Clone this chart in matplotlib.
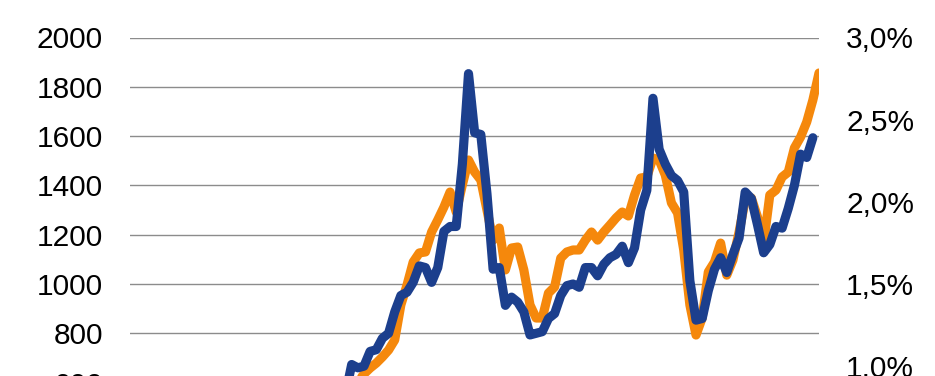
import numpy as np
import matplotlib
matplotlib.use("Agg")
import matplotlib.pyplot as plt
from matplotlib.ticker import FuncFormatter

plt.rcParams['font.family'] = ['Liberation Sans', 'DejaVu Sans']

# Orange series (left axis, index level), one value per period starting at period 0
orange_vals = [550, 602, 635, 659, 679, 704, 732, 773, 915, 996,
               1089, 1126, 1130, 1211, 1260, 1312, 1373, 1292, 1402, 1503,
               1454, 1422, 1300, 1178, 1227, 1057, 1146, 1150, 1057, 915,
               862, 862, 963, 988, 1105, 1130, 1138, 1138, 1178, 1211,
               1178, 1211, 1239, 1268, 1292, 1276, 1361, 1430, 1434, 1511,
               1503, 1442, 1329, 1288, 1138, 915, 793, 862, 1049, 1089,
               1166, 1036, 1097, 1211, 1341, 1349, 1272, 1166, 1361, 1381,
               1434, 1454, 1552, 1596, 1657, 1746, 1856]

# Blue series (right axis, percent), one value per period starting at period -1
blue_pct = [0.83, 1.01, 0.99, 1.00, 1.09, 1.10, 1.17, 1.20, 1.33, 1.43,
            1.45, 1.51, 1.61, 1.60, 1.51, 1.60, 1.82, 1.85, 1.85, 2.23,
            2.78, 2.42, 2.41, 2.05, 1.59, 1.60, 1.37, 1.42, 1.39, 1.33,
            1.19, 1.20, 1.21, 1.29, 1.32, 1.43, 1.49, 1.50, 1.48, 1.60,
            1.60, 1.55, 1.62, 1.66, 1.68, 1.73, 1.63, 1.72, 1.95, 2.07,
            2.63, 2.32, 2.23, 2.16, 2.13, 2.06, 1.52, 1.28, 1.29, 1.46,
            1.59, 1.66, 1.57, 1.68, 1.78, 2.06, 2.02, 1.86, 1.69, 1.74,
            1.85, 1.84, 1.96, 2.10, 2.29, 2.27, 2.39]

left_ticks = [0, 200, 400, 600, 800, 1000, 1200, 1400, 1600, 1800, 2000]
right_ticks = [0.0, 0.5, 1.0, 1.5, 2.0, 2.5, 3.0]

orange_x = np.arange(len(orange_vals))
blue_x = np.arange(len(blue_pct)) - 1

W, H = 935, 376
fig = plt.figure(figsize=(W / 100, H / 100), dpi=100)
left_px, right_px, top_px, bottom_px = 130, 819, 37.5, 530.5
ax = fig.add_axes([left_px / W, 1 - bottom_px / H,
                   (right_px - left_px) / W, (bottom_px - top_px) / H])
ax2 = ax.twinx()

orange = '#F5880C'
blue = '#1C3F8D'

ax.plot(orange_x, orange_vals, color=orange, lw=6.6, solid_joinstyle='round',
        solid_capstyle='round', zorder=3)
ax2.plot(blue_x, blue_pct, color=blue, lw=6.6, solid_joinstyle='round',
         solid_capstyle='round', zorder=3)

ax.set_xlim(-36.05, 76)
ax.set_ylim(0, 2000)
ax2.set_ylim(0, 3.0)
ax.set_yticks(left_ticks)
ax2.set_yticks(right_ticks)
ax.set_xticks([])

ax.grid(axis='y', color='#8c8c8c', lw=1.0)
ax.set_axisbelow(True)

for a in (ax, ax2):
    for s in a.spines.values():
        s.set_visible(False)

ax.tick_params(axis='y', length=0, pad=19.5, labelsize=21.5, labelcolor='black')
ax2.tick_params(axis='y', length=0, pad=19.5, labelsize=21.5, labelcolor='black')
ax2.yaxis.set_major_formatter(FuncFormatter(lambda v, p: f"{v:.1f}".replace('.', ',') + '%'))

fig.savefig('out.png', dpi=100)
